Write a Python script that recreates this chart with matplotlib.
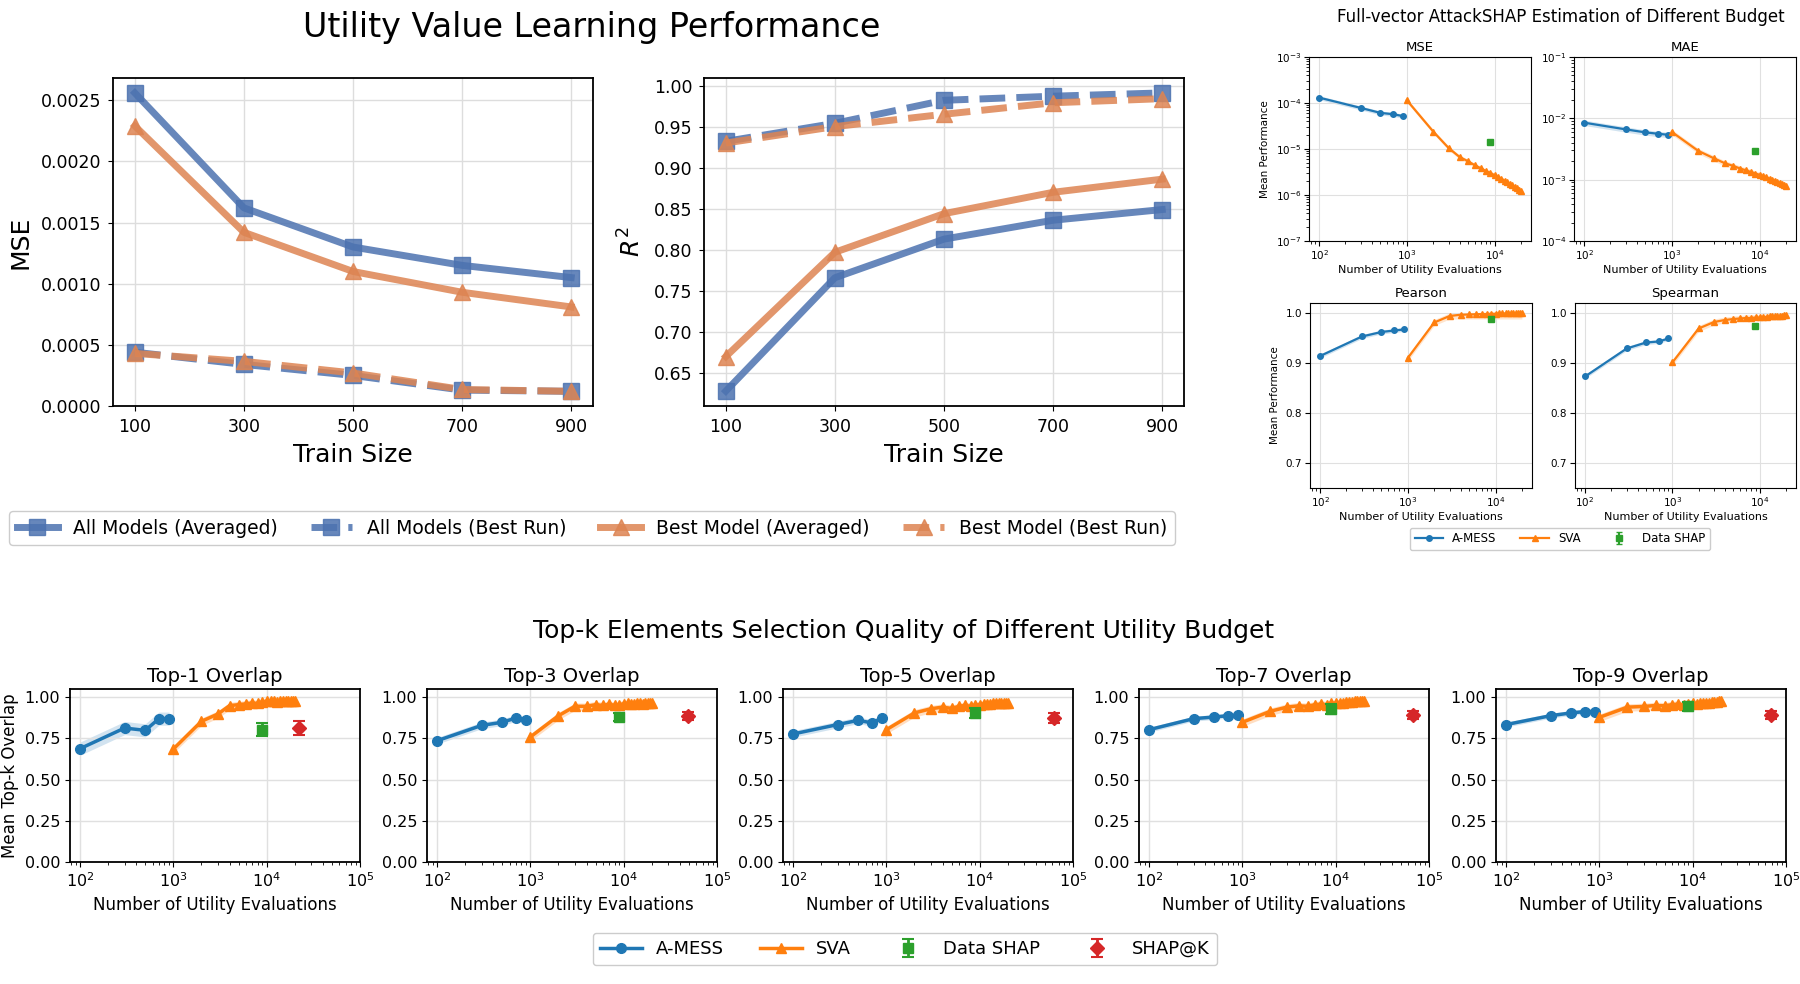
import numpy as np
import matplotlib.pyplot as plt

# ---- data: utility value learning (top left) ----
train_sizes = [100, 300, 500, 700, 900]
mse_all_avg = [0.00256, 0.00162, 0.00130, 0.00115, 0.00105]
mse_all_best = [0.00044, 0.00034, 0.00025, 0.00013, 0.00012]
mse_best_avg = [0.00229, 0.00142, 0.00110, 0.00093, 0.00081]
mse_best_best = [0.00043, 0.000365, 0.00027, 0.000135, 0.00012]
r2_all_avg = [0.628, 0.766, 0.813, 0.836, 0.849]
r2_all_best = [0.932, 0.954, 0.982, 0.987, 0.991]
r2_best_avg = [0.670, 0.797, 0.844, 0.870, 0.886]
r2_best_best = [0.930, 0.950, 0.965, 0.979, 0.984]

# ---- data: full-vector estimation (top right) ----
amess_budget = [100, 300, 500, 700, 900]
sva_budget = [1000, 2000, 3000, 4000, 5000, 6000, 7000, 8000, 9000, 10000,
              11000, 12000, 13000, 14000, 15000, 16000, 17000, 18000, 19000, 20000]
datashap_budget_full = 8800

amess_mse = [1.31e-4, 7.8e-5, 6.1e-5, 5.7e-5, 5.2e-5]
sva_mse = [1.15e-4, 2.4e-5, 1.05e-5, 6.7e-6, 5.4e-6, 4.4e-6, 3.8e-6, 3.3e-6, 3.0e-6, 2.7e-6,
           2.45e-6, 2.25e-6, 2.05e-6, 1.9e-6, 1.75e-6, 1.62e-6, 1.5e-6, 1.4e-6, 1.3e-6, 1.2e-6]
datashap_mse = 1.45e-5

amess_mae = [8.5e-3, 6.6e-3, 5.9e-3, 5.6e-3, 5.4e-3]
sva_mae = [6.0e-3, 2.95e-3, 2.24e-3, 1.86e-3, 1.68e-3, 1.52e-3, 1.42e-3, 1.33e-3, 1.26e-3, 1.2e-3,
           1.14e-3, 1.09e-3, 1.04e-3, 1.0e-3, 0.96e-3, 0.92e-3, 0.89e-3, 0.86e-3, 0.83e-3, 0.80e-3]
datashap_mae = 2.95e-3

amess_pearson = [0.914, 0.953, 0.962, 0.965, 0.967]
sva_pearson = [0.910, 0.981, 0.994, 0.9965, 0.997, 0.9975, 0.998, 0.998, 0.9985, 0.9985,
               0.999, 0.999, 0.999, 0.999, 0.999, 0.9992, 0.9992, 0.9993, 0.9993, 0.9994]
datashap_pearson = 0.987

amess_spearman = [0.873, 0.929, 0.941, 0.943, 0.949]
sva_spearman = [0.901, 0.969, 0.982, 0.986, 0.988, 0.989, 0.990, 0.990, 0.991, 0.991,
                0.992, 0.992, 0.993, 0.993, 0.993, 0.994, 0.994, 0.994, 0.995, 0.995]
datashap_spearman = 0.974

# ---- data: top-k overlap (bottom) ----
topk_names = ["Top-1 Overlap", "Top-3 Overlap", "Top-5 Overlap", "Top-7 Overlap", "Top-9 Overlap"]
amess_topk = [
    [0.688, 0.813, 0.799, 0.870, 0.870],
    [0.736, 0.829, 0.848, 0.874, 0.860],
    [0.777, 0.834, 0.860, 0.844, 0.874],
    [0.803, 0.870, 0.880, 0.888, 0.890],
    [0.834, 0.888, 0.905, 0.913, 0.913],
]
amess_topk_spread = [0.04, 0.02, 0.02, 0.015, 0.015]
sva_topk = [
    [0.686, 0.854, 0.898, 0.949, 0.955, 0.960, 0.965, 0.962, 0.970, 0.975,
     0.980, 0.975, 0.972, 0.978, 0.980, 0.975, 0.978, 0.980, 0.976, 0.975],
    [0.759, 0.888, 0.945, 0.945, 0.955, 0.950, 0.958, 0.950, 0.955, 0.960,
     0.962, 0.958, 0.960, 0.962, 0.965, 0.960, 0.962, 0.965, 0.962, 0.965],
    [0.803, 0.905, 0.930, 0.940, 0.932, 0.945, 0.950, 0.945, 0.952, 0.955,
     0.958, 0.960, 0.958, 0.962, 0.965, 0.962, 0.965, 0.968, 0.965, 0.968],
    [0.848, 0.915, 0.940, 0.948, 0.945, 0.955, 0.958, 0.955, 0.962, 0.965,
     0.968, 0.965, 0.970, 0.972, 0.970, 0.975, 0.975, 0.978, 0.978, 0.980],
    [0.878, 0.940, 0.944, 0.950, 0.948, 0.955, 0.958, 0.955, 0.960, 0.962,
     0.960, 0.965, 0.965, 0.968, 0.968, 0.970, 0.972, 0.972, 0.975, 0.975],
]
datashap_budget = 9000
datashap_topk = [0.803, 0.880, 0.905, 0.927, 0.944]
datashap_topk_err = [0.04, 0.025, 0.03, 0.03, 0.025]
shapk_budget = [22000, 49000, 63000, 68000, 69000]
shapk_topk = [0.813, 0.884, 0.874, 0.890, 0.893]
shapk_topk_err = [0.04, 0.025, 0.03, 0.025, 0.025]

# ---- figure ----
W, H = 1800, 984
fig = plt.figure(figsize=(18, 9.84), dpi=100)


def box(left, right, top, bottom):
    return [left / W, 1 - bottom / H, (right - left) / W, (bottom - top) / H]


BLUE, ORANGE = '#4C72B0', '#DD8452'
C_AM, C_SVA, C_DS, C_SK = 'tab:blue', 'tab:orange', 'tab:green', 'tab:red'

series_style = [
    ('All Models (Averaged)', BLUE, 's', '-'),
    ('All Models (Best Run)', BLUE, 's', '--'),
    ('Best Model (Averaged)', ORANGE, '^', '-'),
    ('Best Model (Best Run)', ORANGE, '^', '--'),
]

# top-left: MSE and R^2
ax_mse = fig.add_axes(box(113, 593, 78, 406))
ax_r2 = fig.add_axes(box(704, 1184, 78, 406))
for ax, vals, ylab in [(ax_mse, [mse_all_avg, mse_all_best, mse_best_avg, mse_best_best], 'MSE'),
                       (ax_r2, [r2_all_avg, r2_all_best, r2_best_avg, r2_best_best], '$R^2$')]:
    for (lab, col, mk, ls), v in zip(series_style, vals):
        ax.plot(train_sizes, v, ls, color=col, marker=mk, lw=5, ms=12, alpha=0.85, label=lab)
    ax.set_xticks(train_sizes)
    ax.set_xlabel('Train Size', fontsize=18, labelpad=5)
    ax.set_ylabel(ylab, fontsize=18, labelpad=6)
    ax.tick_params(labelsize=12.5, pad=5)
    ax.grid(True, color='#dddddd', lw=1)
    for s in ax.spines.values():
        s.set_linewidth(1.3)
ax_mse.set_ylim(bottom=0)
ax_mse.set_yticks([0, 0.0005, 0.0010, 0.0015, 0.0020, 0.0025])
ax_mse.set_yticklabels(['0.0000', '0.0005', '0.0010', '0.0015', '0.0020', '0.0025'])
ax_r2.set_yticks([0.65, 0.70, 0.75, 0.80, 0.85, 0.90, 0.95, 1.00])

fig.text(592 / W, 1 - 28 / H, 'Utility Value Learning Performance', fontsize=24,
         ha='center', va='center')
h, l = ax_mse.get_legend_handles_labels()
fig.legend(h, l, ncol=4, fontsize=13.5, loc='lower left', mode='expand',
           bbox_to_anchor=(9 / W, 1 - 545 / H, 1166 / W, 32 / H),
           borderaxespad=0, handlelength=2.2, framealpha=1, edgecolor='#cccccc')

# top-right: full-vector estimation
tr_boxes = [box(1309, 1531, 57, 241), box(1574, 1796, 57, 241),
            box(1310, 1532, 303, 488), box(1575, 1796, 303, 488)]
tr_data = [
    ('MSE', amess_mse, sva_mse, datashap_mse, True, (1e-7, 1e-3)),
    ('MAE', amess_mae, sva_mae, datashap_mae, True, (1e-4, 1e-1)),
    ('Pearson', amess_pearson, sva_pearson, datashap_pearson, False, (0.65, 1.02)),
    ('Spearman', amess_spearman, sva_spearman, datashap_spearman, False, (0.65, 1.02)),
]
for i, (b, (name, am, sv, ds, logy, ylim)) in enumerate(zip(tr_boxes, tr_data)):
    ax = fig.add_axes(b)
    am = np.array(am)
    sv = np.array(sv)
    if logy:
        ax.fill_between(amess_budget, am * 0.9, am * 1.1, color=C_AM, alpha=0.2, lw=0)
        ax.fill_between(sva_budget, sv * 0.9, sv * 1.1, color=C_SVA, alpha=0.2, lw=0)
    else:
        ax.fill_between(amess_budget, am - 0.004, am + 0.004, color=C_AM, alpha=0.2, lw=0)
        ax.fill_between(sva_budget, np.minimum(sv + 0.006, 1.0) - 0.012, np.minimum(sv + 0.006, 1.0),
                        color=C_SVA, alpha=0.2, lw=0)
    ax.plot(amess_budget, am, '-o', color=C_AM, lw=1.6, ms=4, label='A-MESS')
    ax.plot(sva_budget, sv, '-^', color=C_SVA, lw=1.6, ms=4, label='SVA')
    ax.errorbar([datashap_budget_full], [ds], yerr=[ds * 0.05 if logy else 0.003],
                fmt='s', color=C_DS, ms=4, capsize=2, label='Data SHAP')
    ax.set_xscale('log')
    if logy:
        ax.set_yscale('log')
    ax.set_ylim(*ylim)
    if not logy:
        ax.set_yticks([0.7, 0.8, 0.9, 1.0])
    ax.set_title(name, fontsize=9.5, pad=4)
    ax.set_xlabel('Number of Utility Evaluations', fontsize=8, labelpad=2)
    if i % 2 == 0:
        ax.set_ylabel('Mean Performance', fontsize=7.5)
    ax.tick_params(labelsize=7.5, pad=2)
    ax.tick_params(which='minor', length=2)
    ax.grid(True, which='major', color='#e0e0e0', lw=0.8)
    if i == 0:
        tr_handles, tr_labels = ax.get_legend_handles_labels()

fig.text(1561 / W, 1 - 17 / H, 'Full-vector AttackSHAP Estimation of Different Budget',
         fontsize=12, ha='center', va='center')
fig.legend(tr_handles, tr_labels, ncol=3, fontsize=8.5, loc='center',
           bbox_to_anchor=(1560 / W, 1 - 539 / H), handlelength=2.4,
           framealpha=1, edgecolor='#cccccc', borderpad=0.4)

# bottom: top-k overlap
lefts = [70, 427, 783, 1139, 1496]
for i, lft in enumerate(lefts):
    ax = fig.add_axes(box(lft, lft + 290, 689, 862))
    am = np.array(amess_topk[i])
    sv = np.array(sva_topk[i])
    sp = amess_topk_spread[i]
    ax.fill_between(amess_budget, am - sp, am + sp, color=C_AM, alpha=0.2, lw=0)
    ax.fill_between(sva_budget, sv - 0.025, np.minimum(sv + 0.02, 1.0), color=C_SVA, alpha=0.25, lw=0)
    ax.plot(amess_budget, am, '-o', color=C_AM, lw=2.5, ms=7, label='A-MESS')
    ax.plot(sva_budget, sv, '-^', color=C_SVA, lw=2.5, ms=7, label='SVA')
    ax.errorbar([datashap_budget], [datashap_topk[i]], yerr=[datashap_topk_err[i]],
                fmt='s', color=C_DS, ms=7, capsize=4, elinewidth=2, capthick=1.5, label='Data SHAP')
    ax.errorbar([shapk_budget[i]], [shapk_topk[i]], yerr=[shapk_topk_err[i]],
                fmt='D', color=C_SK, ms=7, capsize=4, elinewidth=2, capthick=1.5, label='SHAP@K')
    ax.set_xscale('log')
    ax.set_xlim(78, 1e5)
    ax.set_ylim(0, 1.05)
    ax.set_yticks([0, 0.25, 0.5, 0.75, 1.0])
    ax.set_title(topk_names[i], fontsize=14, pad=5)
    ax.set_xlabel('Number of Utility Evaluations', fontsize=12)
    if i == 0:
        ax.set_ylabel('Mean Top-k Overlap', fontsize=12)
    ax.tick_params(labelsize=11.5)
    ax.grid(True, which='major', color='#e0e0e0', lw=1)
    for s in ax.spines.values():
        s.set_linewidth(1.3)
    if i == 0:
        bt_handles, bt_labels = ax.get_legend_handles_labels()

fig.text(904 / W, 1 - 631 / H, 'Top-k Elements Selection Quality of Different Utility Budget',
         fontsize=18, ha='center', va='center')
fig.legend(bt_handles, bt_labels, ncol=4, fontsize=13, loc='center',
           bbox_to_anchor=(905 / W, 1 - 949 / H), handlelength=2.3,
           framealpha=1, edgecolor='#cccccc')

fig.savefig('out.png', dpi=100)
